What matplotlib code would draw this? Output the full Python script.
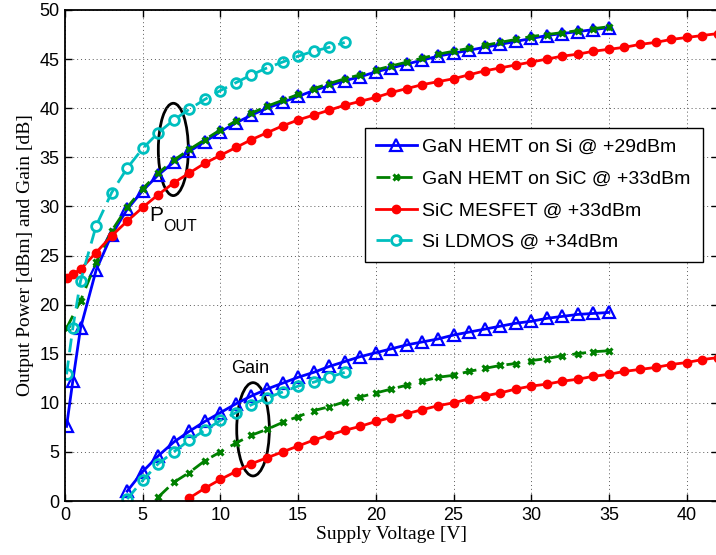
import numpy as np
import matplotlib
matplotlib.use("Agg")
import matplotlib.pyplot as plt
from matplotlib.patches import Ellipse

# ---- Output power vs. supply voltage ----
v_gan_si_pout = [0.1, 0.5] + list(range(1, 36))
gan_si_pout = [7.6, 12.2, 17.6, 23.5, 27.1, 29.7, 31.6, 33.2, 34.5, 35.6, 36.6,
               37.6, 38.5, 39.3, 40.0, 40.6, 41.2, 41.8, 42.3, 42.8, 43.2, 43.7,
               44.1, 44.5, 44.9, 45.3, 45.6, 45.9, 46.2, 46.5, 46.8, 47.1, 47.4,
               47.6, 47.8, 48.0, 48.2]

v_gan_sic_pout = [0.1] + list(range(1, 36))
gan_sic_pout = [17.6, 20.4, 24.3, 27.5, 29.9, 31.8, 33.4, 34.7, 35.8, 36.8,
                37.8, 38.7, 39.5, 40.2, 40.8, 41.4, 42.0, 42.5, 43.0, 43.4, 43.9,
                44.3, 44.7, 45.1, 45.5, 45.8, 46.1, 46.4, 46.7, 47.0, 47.3, 47.5,
                47.7, 47.9, 48.1, 48.3]

v_sic_pout = [0.1, 0.5] + list(range(1, 43))
sic_pout = [22.7, 23.1, 23.6, 25.3, 27.0, 28.5, 29.9, 31.2, 32.4, 33.4, 34.4,
            35.2, 36.0, 36.8, 37.5, 38.2, 38.8, 39.3, 39.8, 40.3, 40.7, 41.1,
            41.6, 42.0, 42.4, 42.7, 43.0, 43.4, 43.8, 44.1, 44.4, 44.7, 45.0,
            45.3, 45.5, 45.8, 46.0, 46.2, 46.5, 46.7, 47.0, 47.2, 47.4, 47.6]

v_ldmos_pout = [0.1, 0.5] + list(range(1, 19))
ldmos_pout = [12.9, 17.6, 22.4, 28.0, 31.4, 33.9, 35.9, 37.5, 38.8, 39.9, 40.9,
              41.8, 42.6, 43.4, 44.1, 44.7, 45.3, 45.8, 46.2, 46.7]

# ---- Gain vs. supply voltage ----
v_gan_si_gain = list(range(4, 36))
gan_si_gain = [1.0, 3.0, 4.6, 6.0, 7.1, 8.1, 9.0, 9.9, 10.7, 11.4, 12.0, 12.6,
               13.1, 13.7, 14.2, 14.7, 15.1, 15.5, 15.9, 16.2, 16.5, 16.9, 17.2,
               17.5, 17.8, 18.1, 18.3, 18.6, 18.8, 19.0, 19.1, 19.2]

v_gan_sic_gain = list(range(6, 36))
gan_sic_gain = [0.4, 1.9, 2.9, 4.1, 5.0, 5.9, 6.7, 7.3, 8.0, 8.6, 9.2, 9.6, 10.1,
                10.6, 11.0, 11.4, 11.8, 12.2, 12.6, 12.8, 13.2, 13.5, 13.8, 14.0,
                14.3, 14.5, 14.8, 15.0, 15.2, 15.3]

v_sic_gain = list(range(8, 43))
sic_gain = [0.3, 1.3, 2.2, 3.0, 3.8, 4.4, 5.0, 5.6, 6.2, 6.7, 7.2, 7.6, 8.1, 8.5,
            8.9, 9.3, 9.7, 10.0, 10.4, 10.7, 11.0, 11.4, 11.7, 11.9, 12.2, 12.4,
            12.7, 12.9, 13.2, 13.4, 13.6, 13.9, 14.1, 14.4, 14.6]

v_ldmos_gain = list(range(4, 19))
ldmos_gain = [0.2, 2.1, 3.8, 5.0, 6.2, 7.2, 8.2, 9.0, 9.8, 10.5, 11.1, 11.7,
              12.1, 12.6, 13.1]

labels = ["GaN HEMT on Si @ +29dBm", "GaN HEMT on SiC @ +33dBm",
          "SiC MESFET @ +33dBm", "Si LDMOS @ +34dBm"]
x_ticks = [0, 5, 10, 15, 20, 25, 30, 35, 40]
y_ticks = [0, 5, 10, 15, 20, 25, 30, 35, 40, 45, 50]

plt.rcParams["font.family"] = ["Liberation Sans", "DejaVu Sans"]

fig = plt.figure(figsize=(7.16, 5.55), dpi=100)
ax = fig.add_axes([65 / 716, 1 - 501 / 555, 652.7 / 716, 491 / 555])

BLUE, GREEN, RED, CYAN = "#0000FF", "#008000", "#FF0000", "#00BFBF"
lw = 2.0
dash = (0, (5, 3))

styles = [
    dict(color=BLUE, ls="-", marker="^", ms=9, mfc="none", mew=1.6),
    dict(color=GREEN, ls=dash, marker="x", ms=5, mew=2.2),
    dict(color=RED, ls="-", marker="o", ms=6, mfc=RED, mew=1),
    dict(color=CYAN, ls=dash, marker="o", ms=7, mfc="none", mew=2),
]

pout = [(v_gan_si_pout, gan_si_pout), (v_gan_sic_pout, gan_sic_pout),
        (v_sic_pout, sic_pout), (v_ldmos_pout, ldmos_pout)]
gain = [(v_gan_si_gain, gan_si_gain), (v_gan_sic_gain, gan_sic_gain),
        (v_sic_gain, sic_gain), (v_ldmos_gain, ldmos_gain)]

handles = []
for (xv, yv), st, lab in zip(pout, styles, labels):
    h, = ax.plot(xv, yv, lw=lw, label=lab, **st)
    handles.append(h)
for (xv, yv), st in zip(gain, styles):
    ax.plot(xv, yv, lw=lw, **st)

ax.set_xlim(0, 42)
ax.set_ylim(0, 50)
ax.set_xticks(x_ticks)
ax.set_yticks(y_ticks)
ax.tick_params(direction="in", length=5, width=1, top=True, right=True,
               labelsize=13, pad=4)
ax.grid(True, color="0.35", ls=(0, (1, 3)), lw=0.7)
for s in ax.spines.values():
    s.set_linewidth(1.3)

ax.set_xlabel("Supply Voltage [V]", family=["Liberation Serif"], fontsize=14,
              labelpad=2)
ax.set_ylabel("Output Power [dBm] and Gain [dB]", family=["Liberation Serif"],
              fontsize=14, labelpad=4)

# Annotations
ax.add_patch(Ellipse((6.97, 35.8), 1.93, 9.4, fill=False, ec="black", lw=2))
ax.add_patch(Ellipse((12.1, 7.3), 2.1, 9.5, fill=False, ec="black", lw=2))
ax.text(5.45, 28.5, "P", fontsize=15, ha="left", va="baseline")
ax.text(6.3, 27.5, "OUT", fontsize=11.5, ha="left", va="baseline")
ax.text(10.7, 13.0, "Gain", fontsize=13, ha="left", va="baseline")

leg = ax.legend(handles=handles, loc="upper left",
                bbox_to_anchor=(0.4596, 0.4868, 0.5180, 0.2729), mode="expand",
                fontsize=14, frameon=True, fancybox=False, edgecolor="black",
                framealpha=1, handlelength=2.1, handletextpad=0.3,
                labelspacing=0.72, borderpad=0.55, borderaxespad=0,
                numpoints=1)
leg.get_frame().set_linewidth(1.0)

fig.savefig("out.png", dpi=100)
